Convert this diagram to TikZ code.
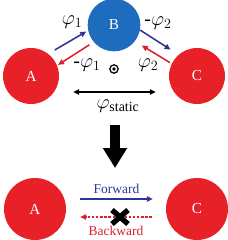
\documentclass[tikz,border=0pt]{standalone}
\usepackage{fontspec}
\setmainfont{Liberation Serif}
\usepackage{amsmath}
\usepackage{tikz}
\usetikzlibrary{arrows.meta, calc}
\definecolor{ballred}{RGB}{232, 32, 40}
\definecolor{ballblue}{RGB}{30, 108, 190}
\definecolor{arrowblue}{RGB}{46, 52, 150}
\definecolor{arrowred}{RGB}{222, 30, 44}

\begin{document}
\begin{tikzpicture}[
  x=0.03cm, y=-0.03cm,
  every node/.style={font=\fontsize{13}{15}\selectfont},
  redball/.style={circle, fill=ballred, text=white, minimum size=1.68cm, inner sep=0pt},
  blueball/.style={circle, fill=ballblue, text=white, minimum size=1.58cm, inner sep=0pt},
  bigball/.style={circle, fill=ballred, text=white, minimum size=1.86cm, inner sep=0pt},
  phase/.style={font=\fontsize{17}{20}\selectfont},
  bluearrow/.style={-{Triangle[length=1.8mm, width=1.6mm]}, line width=1.3pt, draw=arrowblue},
  redarrow/.style={-{Triangle[length=1.8mm, width=1.6mm]}, line width=1.3pt, draw=arrowred},
  staticarrow/.style={{Triangle[length=1.8mm, width=1.6mm]}-{Triangle[length=1.8mm, width=1.6mm]}, line width=1.4pt}
]
  \useasboundingbox (0,0) rectangle (228,240);

  % Top row: three coupled sites
  \node[redball] (A) at (31,76) {A};
  \node[blueball] (B) at (114,25) {B};
  \node[redball] (C) at (197,76) {C};

  % Hopping phases
  \draw[bluearrow, shorten <=2.2mm, shorten >=0.6mm] (A.52) -- (B.192);
  \draw[redarrow, shorten <=1.5mm, shorten >=0.3mm] (B.220) -- (A.22);
  \draw[bluearrow, shorten >=2.8mm] (B.349) -- (C.131);
  \draw[redarrow, shorten <=0.6mm, shorten >=2.4mm] (C.154) -- (B.322);

  \node[phase] (p1) at (72,22) {$\varphi_1$};
  \node[phase] (mp1) at (87,65) {-$\varphi_1$};
  \node[phase] (mp2) at (158,23) {-$\varphi_2$};
  \node[phase] (p2) at (148,65) {$\varphi_2$};

  % Magnetic flux through the loop
  \node[circle, draw, line width=1.1pt, minimum size=0.25cm, inner sep=0pt] (flux) at (114,69) {};
  \fill (flux.center) circle[radius=1.9];

  \draw[staticarrow] ($(A.east)+(14,16)$) -- ($(C.west)+(-13,16)$);
  \node[phase] (pstatic) at (118,106) {$\varphi_{\text{static}}$};

  % Result
  \coordinate (downtop) at (115,125);
  \coordinate (downbot) at (115,168);
  \draw[line width=3mm, -{Triangle[length=6mm, width=6.9mm]}] (downtop) -- (downbot);

  % Bottom row: nonreciprocal transfer
  \node[bigball] (A2) at (35,209) {A};
  \node[bigball] (C2) at (197,209) {C};

  \draw[bluearrow] ($(A2.east)+(14,-10)$) -- node[above=1pt, text=arrowblue, font=\fontsize{11.5}{13}\selectfont] (fwd) {Forward} ($(C2.west)+(-13,-10)$);
  \draw[redarrow, dash pattern=on 2pt off 1.5pt] ($(C2.west)+(-14,8)$) -- node[below=4pt, text=arrowred, font=\fontsize{11.5}{13}\selectfont] (bwd) {Backward} ($(A2.east)+(14,8)$);

  % Blocked direction
  \draw[line width=1.6mm] (112,210) -- (128,224);
  \draw[line width=1.6mm] (112,224) -- (128,210);

\end{tikzpicture}
\end{document}
